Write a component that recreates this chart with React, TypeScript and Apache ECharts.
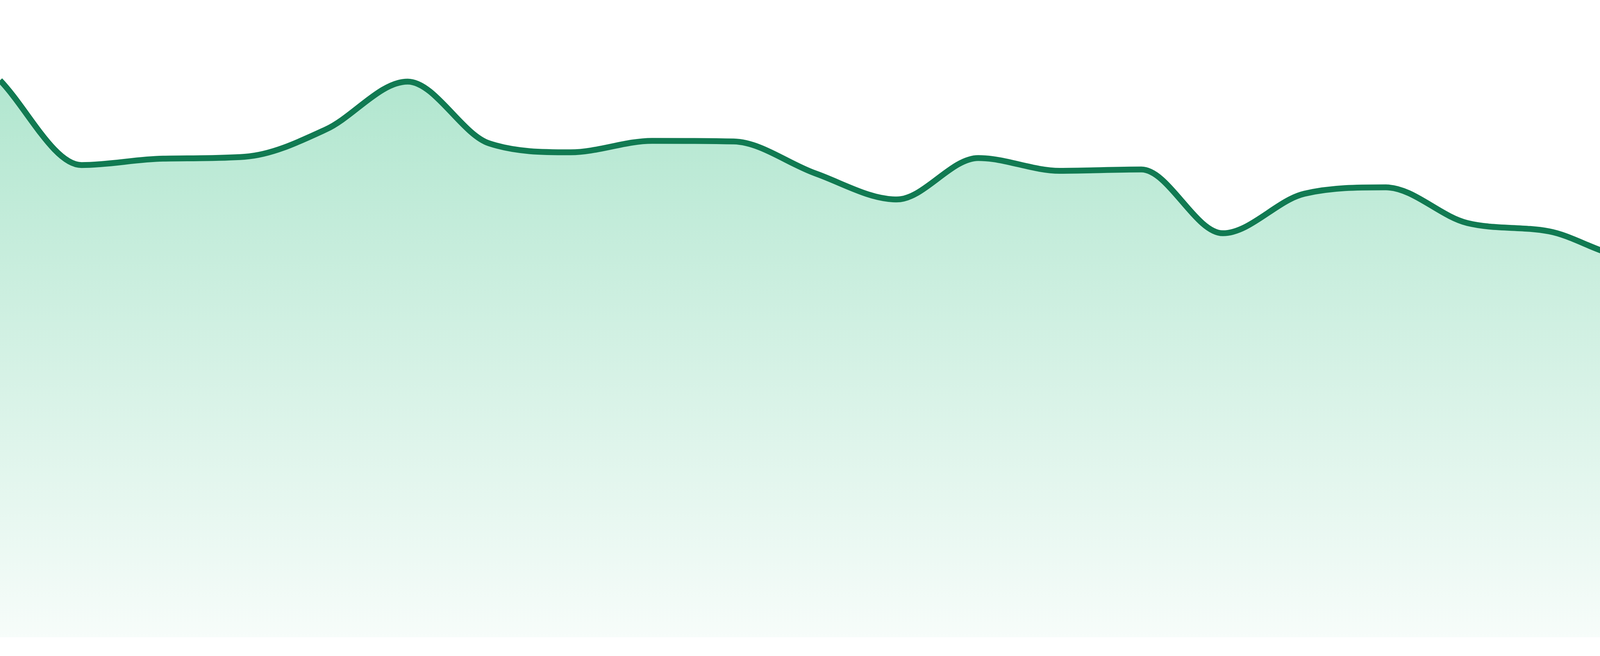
import React, { useEffect, useRef } from 'react';
import * as echarts from 'echarts';
import type { EChartsOption } from 'echarts';

// one point per period; the axis labels are hidden in the picture
const periods = [
  'P01', 'P02', 'P03', 'P04', 'P05', 'P06', 'P07', 'P08',
  'P09', 'P10', 'P11', 'P12', 'P13', 'P14', 'P15', 'P16',
  'P17', 'P18', 'P19', 'P20', 'P21', 'P22', 'P23', 'P24',
];

const values = [
  87.4, 74.1, 75.1, 75.4, 79.7, 87.2, 77.5, 76.1,
  77.9, 77.8, 72.8, 68.7, 75.2, 73.2, 73.4, 63.4,
  69.6, 70.6, 65.0, 63.7, 59.7, 61.6, 58.5, 56.3,
];

const yMin = 0;
const yMax = 100;

const LINE = '#117A52';

// monotone cubic (Fritsch–Carlson, chord slope at both ends), on pixel points from api.coord
function monotonePath(pts: number[][]): string {
  const n = pts.length;
  const delta: number[] = [];
  for (let i = 0; i < n - 1; i++) {
    delta.push((pts[i + 1][1] - pts[i][1]) / (pts[i + 1][0] - pts[i][0]));
  }
  const m: number[] = new Array(n).fill(0);
  m[0] = delta[0];
  m[n - 1] = delta[n - 2];
  for (let i = 1; i < n - 1; i++) {
    m[i] = Math.sign(delta[i - 1]) !== Math.sign(delta[i]) ? 0 : (delta[i - 1] + delta[i]) / 2;
  }
  for (let i = 0; i < n - 1; i++) {
    if (Math.abs(delta[i]) < 1e-9) {
      m[i] = 0;
      m[i + 1] = 0;
      continue;
    }
    const a = m[i] / delta[i];
    const b = m[i + 1] / delta[i];
    const sq = a * a + b * b;
    if (sq <= 9) continue;
    const tau = 3 / Math.sqrt(sq);
    m[i] = a * tau * delta[i];
    m[i + 1] = b * tau * delta[i];
  }

  let d = `M${pts[0][0]},${pts[0][1]}`;
  for (let i = 0; i < n - 1; i++) {
    const [x0, y0] = pts[i];
    const [x1, y1] = pts[i + 1];
    const dx = (x1 - x0) / 3;
    d += ` C${x0 + dx},${y0 + dx * m[i]} ${x1 - dx},${y1 - dx * m[i + 1]} ${x1},${y1}`;
  }
  return d;
}

const buildOption = (): EChartsOption => ({
  animation: false,
  backgroundColor: '#ffffff',
  grid: { left: 0, right: 0, top: 0, bottom: 48 },
  xAxis: {
    type: 'category',
    data: periods,
    boundaryGap: false,
    show: false,
  },
  yAxis: {
    type: 'value',
    min: yMin,
    max: yMax,
    show: false,
  },
  series: [
    {
      type: 'custom',
      data: values.map((v, i) => [i, v]),
      encode: { x: 0, y: 1 },
      renderItem: (params: any, api: any) => {
        if (params.dataIndex !== 0) return null;
        const pts = values.map((v, i) => api.coord([i, v]));
        const line = monotonePath(pts);
        const last = pts[pts.length - 1];
        const base = api.coord([0, yMin])[1];
        const area = `${line} L${last[0]},${base} L${pts[0][0]},${base} Z`;
        return {
          type: 'group',
          children: [
            {
              type: 'path',
              shape: { pathData: area },
              style: {
                fill: new echarts.graphic.LinearGradient(0, 0, 0, 1, [
                  { offset: 0, color: 'rgba(20,180,110,0.33)' },
                  { offset: 1, color: 'rgba(20,180,110,0.035)' },
                ]),
                stroke: 'none',
              },
            },
            {
              type: 'path',
              shape: { pathData: line },
              style: { fill: 'none', stroke: LINE, lineWidth: 15, lineJoin: 'round' },
            },
          ],
        };
      },
    },
  ],
});

export default function App() {
  const ref = useRef<HTMLDivElement>(null);

  useEffect(() => {
    if (!ref.current) return;
    const chart = echarts.init(ref.current, null, { renderer: 'svg' });
    chart.setOption(buildOption());
    return () => chart.dispose();
  }, []);

  return (
    <div
      ref={ref}
      style={{ position: 'fixed', left: 0, top: 0, width: 4800, height: 1680, background: '#fff' }}
    />
  );
}
